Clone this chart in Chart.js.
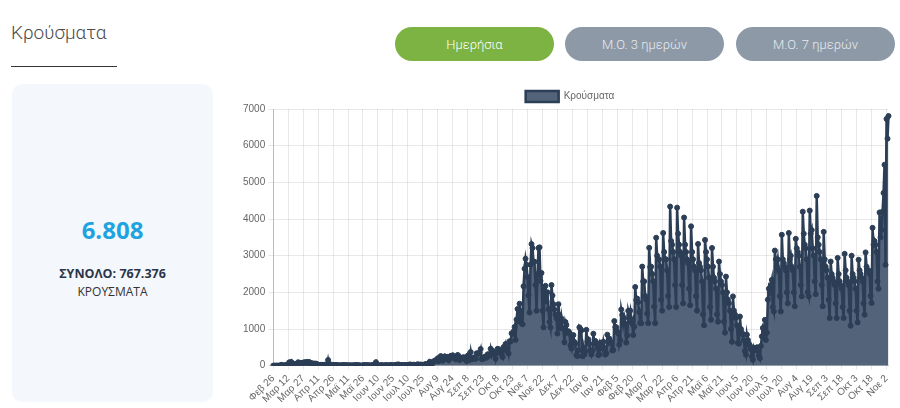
<!DOCTYPE html>
<html>
<head>
<meta charset="utf-8">
<script src="https://cdn.jsdelivr.net/npm/chart.js@4.4.0/dist/chart.umd.min.js"></script>
<style>
html,body{margin:0;padding:0;background:#fff;width:900px;height:408px;overflow:hidden;}
.title{position:absolute;left:11px;top:23px;font:300 19px/19px Roboto,sans-serif;color:#4a4a4a;white-space:nowrap;}
.rule{position:absolute;left:11px;top:66px;width:106px;height:1px;background:#333;}
.btn{position:absolute;top:27px;height:34px;width:159px;border-radius:17px;color:#e6ebf0;font:300 13px Roboto,sans-serif;display:flex;align-items:center;justify-content:center;}
.green{left:395px;background:#7cb342;color:#fff;}
.gray{background:#8d99a6;}
.card{position:absolute;left:12px;top:84px;width:201px;height:318px;border-radius:10px;background:#f4f7fc;}
.big{position:absolute;left:12px;width:201px;top:218px;text-align:center;font:700 24px/24px 'Open Sans',sans-serif;color:#1ea3e1;}
.tot{position:absolute;left:12px;width:201px;top:266.5px;text-align:center;font:700 12.5px/13px 'Open Sans',sans-serif;color:#2b3547;}
.sub{position:absolute;left:12px;width:201px;top:286px;text-align:center;font:400 12px/12px 'Open Sans',sans-serif;color:#333;}
#wrap{position:absolute;left:240px;top:86px;width:660px;height:322px;}
</style>
</head>
<body>
<div class="title">Κρούσματα</div>
<div class="rule"></div>
<div class="btn green">Ημερήσια</div>
<div class="btn gray" style="left:565px">Μ.Ο. 3 ημερών</div>
<div class="btn gray" style="left:736px">Μ.Ο. 7 ημερών</div>
<div class="card"></div>
<div class="big">6.808</div>
<div class="tot">ΣΥΝΟΛΟ: 767.376</div>
<div class="sub">ΚΡΟΥΣΜΑΤΑ</div>
<div id="wrap"><canvas id="c"></canvas></div>
<script>
const monthNames = ['Ιαν','Φεβ','Μαρ','Απρ','Μαϊ','Ιουν','Ιουλ','Αυγ','Σεπ','Οκτ','Νοε','Δεκ'];
const startDate = {year: 2020, month: 1, day: 26};
const labelEvery = 15;
const seriesName = 'Κρούσματα';
const yMin = 0, yMax = 7000, yStep = 1000;

// daily cases, 26 Feb 2020 – 31 Dec 2020
const cases2020 = [
  1,2,1,0,
  3,0,0,2,23,14,4,7,11,16,10,15,91,38,103,21,56,31,46,31,35,94,71,71,78,71,74,95,64,95,102,
  50,102,60,70,62,20,60,51,56,16,33,16,19,25,25,13,14,31,20,10,156,16,40,12,15,17,16,17,22,15,
  10,4,10,6,13,15,10,17,10,7,12,8,6,10,3,9,10,3,21,10,12,11,3,5,3,5,20,7,10,16,6,
  9,8,4,12,15,20,41,97,3,5,9,9,10,15,7,5,10,15,14,6,7,12,20,14,5,8,16,10,30,29,
  32,18,11,12,17,15,17,12,16,20,25,33,28,19,25,27,21,14,25,39,27,15,33,13,23,26,33,43,36,30,57,
  110,61,31,75,124,121,153,151,203,126,217,262,184,134,169,254,190,211,242,150,229,269,232,284,211,200,168,222,293,256,155,
  220,204,221,232,174,168,125,272,189,157,372,181,183,225,202,185,340,319,338,362,453,178,191,195,247,229,218,310,264,314,
  460,306,406,309,331,189,353,460,445,438,392,301,235,508,507,592,411,460,332,667,659,882,865,935,1056,703,1259,1547,1211,1690,1490,
  1155,1130,2166,2646,2917,2752,2416,1914,1450,2752,3316,3209,2835,2835,2198,1498,2494,3209,3227,2311,2529,1498,1044,2152,2177,1747,2001,1538,1193,1044,
  2199,1913,1674,1535,1395,1294,876,1677,1382,1026,1285,1027,1004,636,1193,1111,897,941,902,556,467,820,834,647,598,290,262,415,1047,1001,963
];
// daily cases, 1 Jan 2021 – 4 Nov 2021
const cases2021 = [
  262,489,301,391,977,653,715,597,416,304,401,872,622,673,596,479,288,302,625,567,479,654,480,302,336,847,640,740,667,600,416,
  428,1217,1052,1050,927,880,574,694,1532,1384,1130,1298,1139,630,826,1496,1384,1500,1186,1249,835,1064,2147,1790,1830,1731,1463,1167,
  1155,2702,2300,2300,1900,1800,1424,1160,3215,2690,2700,2500,2300,1612,1160,3490,3000,2900,2900,2700,1800,1500,3620,3100,2900,2900,2600,1900,1600,4340,3400,
  3300,3100,2900,2200,1600,4310,3600,3300,3100,3000,2200,1700,4040,3300,3100,2900,2800,2100,1650,3800,3100,2900,2700,2600,1900,1500,3320,2800,2700,2600,
  2300,1400,1100,3430,3100,2900,2700,2400,1600,1250,3210,2700,2400,2300,2100,1400,1200,2840,2500,2300,2200,2000,1200,900,2430,2000,1800,1700,1500,1000,650,
  1890,1500,1400,1300,1100,620,600,1340,1000,900,850,700,400,300,845,700,600,550,450,250,160,490,420,450,500,400,270,200,540,800,
  1030,950,1250,700,900,1800,2100,2000,2200,2340,1600,1480,3140,2900,2700,2900,2600,1900,1480,3570,2900,2800,2700,2600,2000,1700,3620,2900,3000,2700,2600,
  2000,1620,3460,3200,3100,3000,2700,2200,1890,4200,3600,3300,3200,2900,2000,1890,4230,3600,3700,3200,3000,2300,1950,4630,3500,3300,3100,2900,2200,1620,3650,
  2900,2700,2600,2400,1800,1300,2840,2500,2400,2300,2200,1700,1300,2940,2500,2300,2200,2100,1600,1300,3050,2600,2400,2300,2200,1500,1090,3000,2500,2400,
  2300,2100,1500,1180,2890,2600,2500,2400,2300,1700,1390,3090,2700,2600,2600,2500,1900,1710,3760,3300,3400,3300,3100,2300,2100,4180,3500,3700,4200,4710,5480,
  2750,6730,6190,6808
];

const cases = cases2020.concat(cases2021);
const labels = cases.map((_, i) => {
  const d = new Date(Date.UTC(startDate.year, startDate.month, startDate.day + i));
  return monthNames[d.getUTCMonth()] + ' ' + d.getUTCDate();
});

const FONT = "'Liberation Sans', Arial, sans-serif";
const legendTrim = {
  id: 'legendTrim',
  beforeInit(chart) {
    const origFit = chart.legend.fit;
    chart.legend.fit = function () {
      origFit.call(this);
      this.height -= 3;
    };
  }
};

new Chart(document.getElementById('c'), {
  type: 'line',
  data: {
    labels: labels,
    datasets: [{
      label: seriesName,
      data: cases,
      fill: 'origin',
      backgroundColor: 'rgb(82,99,122)',
      borderColor: '#2c3e56',
      borderWidth: 2.5,
      pointRadius: 2.5,
      pointBorderWidth: 1,
      pointBackgroundColor: '#2c3e56',
      pointBorderColor: '#2c3e56',
      tension: 0
    }]
  },
  options: {
    responsive: true,
    maintainAspectRatio: false,
    animation: false,
    devicePixelRatio: 1,
    layout: {padding: {left: 0, right: 0, top: 0, bottom: 0}},
    plugins: {
      legend: {
        display: true,
        position: 'top',
        labels: {
          boxWidth: 33,
          boxHeight: 11,
          padding: 5,
          color: '#666',
          font: {family: FONT, size: 10}
        }
      },
      tooltip: {enabled: false}
    },
    scales: {
      x: {
        grid: {
          color: (ctx) => (ctx.index % labelEvery === 0 ? 'rgba(0,0,0,0.09)' : 'rgba(0,0,0,0)'),
          tickLength: 4
        },
        border: {color: 'rgba(0,0,0,0.15)'},
        ticks: {
          autoSkip: false,
          minRotation: 45,
          maxRotation: 45,
          color: '#666',
          font: {family: FONT, size: 10},
          padding: 3,
          callback: function (value, index) {
            return index % labelEvery === 0 ? labels[index] : '';
          }
        }
      },
      y: {
        min: yMin,
        max: yMax,
        grid: {color: 'rgba(0,0,0,0.09)', tickLength: 5},
        border: {color: 'rgba(0,0,0,0.2)'},
        ticks: {
          stepSize: yStep,
          color: '#666',
          padding: 3,
          font: {family: FONT, size: 10},
          callback: (v) => String(v)
        }
      }
    }
  },
  plugins: [legendTrim]
});
</script>
</body>
</html>
